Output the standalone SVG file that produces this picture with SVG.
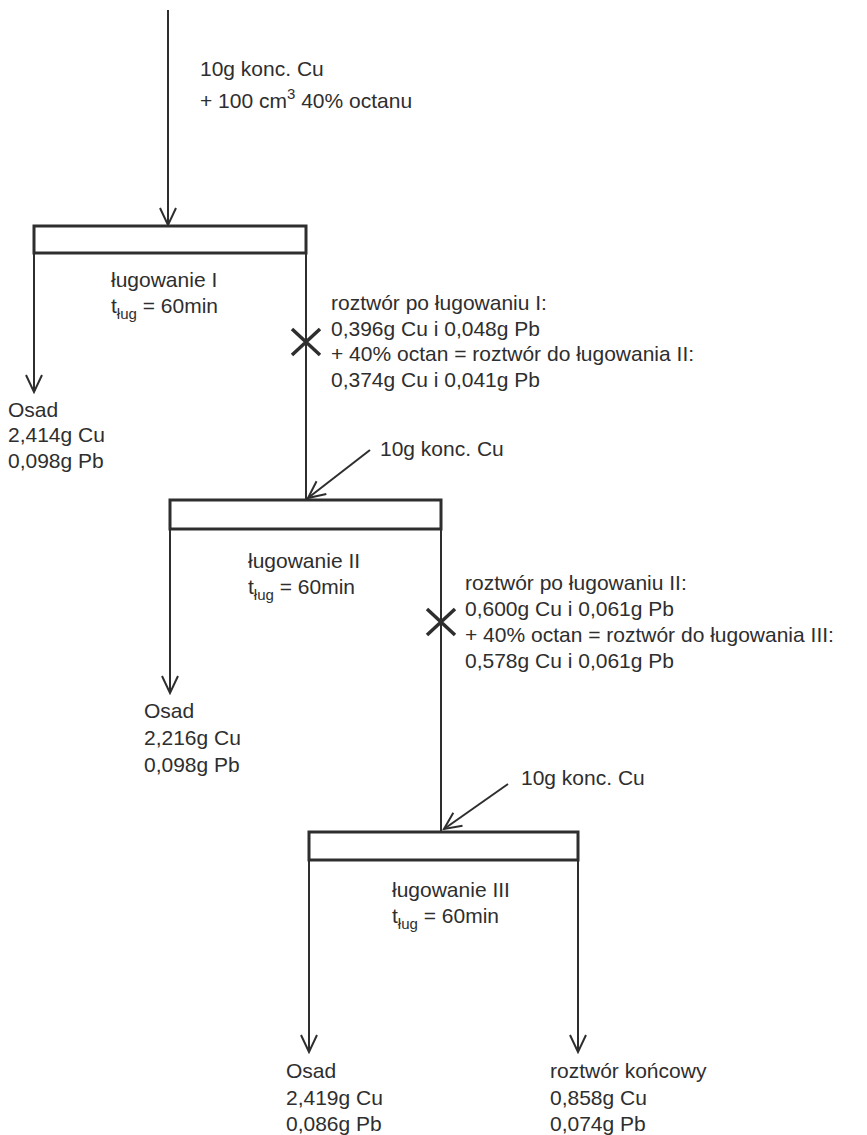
<svg xmlns="http://www.w3.org/2000/svg" width="867" height="1135" viewBox="0 0 867 1135">
<defs>
<style>
text{font-family:"Liberation Sans",Arial,sans-serif;font-size:21px;fill:#2e2e2e}
.sub{font-size:15px}
.ln{stroke:#2e2e2e;stroke-width:2;fill:none}
.box{stroke:#2e2e2e;stroke-width:3;fill:none}
.x{stroke:#2e2e2e;stroke-width:3.5;fill:none}
</style>
<marker id="ah" markerWidth="20" markerHeight="20" viewBox="0 0 20 20" refX="18" refY="10" orient="auto" markerUnits="userSpaceOnUse">
<path d="M1,2 L18,10 L1,18" fill="none" stroke="#2e2e2e" stroke-width="2"/>
</marker>
</defs>
<rect width="867" height="1135" fill="#ffffff"/>
<g id="connectors">
<line class="ln" x1="168" y1="10" x2="168" y2="225" marker-end="url(#ah)"/>
<line class="ln" x1="34" y1="253" x2="34" y2="392" marker-end="url(#ah)"/>
<line class="ln" x1="306" y1="253" x2="306" y2="500"/>
<line class="ln" x1="370" y1="450" x2="308" y2="498" marker-end="url(#ah)"/>
<line class="ln" x1="170" y1="529" x2="170" y2="693" marker-end="url(#ah)"/>
<line class="ln" x1="441" y1="529" x2="441" y2="831"/>
<line class="ln" x1="508" y1="784" x2="444" y2="829" marker-end="url(#ah)"/>
<line class="ln" x1="309" y1="860" x2="309" y2="1052" marker-end="url(#ah)"/>
<line class="ln" x1="578" y1="860" x2="578" y2="1052" marker-end="url(#ah)"/>
<path class="x" d="M292,329 L320,355 M320,329 L292,355"/>
<path class="x" d="M427,609 L455,635 M455,609 L427,635"/>
</g>
<g id="feed1">
<text x="200" y="76">10g konc. Cu</text>
<text x="200" y="108">+ 100 cm<tspan class="sub" dy="-9">3</tspan><tspan dy="9"> 40% octanu</tspan></text>
</g>
<g id="lugowanie1">
<rect class="box" x="34" y="226" width="272" height="27"/>
<text x="111" y="287">ługowanie I</text>
<text x="111" y="313">t<tspan class="sub" dy="6">ług</tspan><tspan dy="-6"> = 60min</tspan></text>
</g>
<g id="roztwor1">
<text x="331" y="310">roztwór po ługowaniu I:</text>
<text x="331" y="336">0,396g Cu i 0,048g Pb</text>
<text x="331" y="361">+ 40% octan = roztwór do ługowania II:</text>
<text x="331" y="387">0,374g Cu i 0,041g Pb</text>
</g>
<g id="osad1">
<text x="8" y="417">Osad</text>
<text x="8" y="442">2,414g Cu</text>
<text x="8" y="468">0,098g Pb</text>
</g>
<g id="feed2">
<text x="380" y="456">10g konc. Cu</text>
</g>
<g id="lugowanie2">
<rect class="box" x="170" y="500" width="271" height="29"/>
<text x="248" y="568">ługowanie II</text>
<text x="248" y="594">t<tspan class="sub" dy="6">ług</tspan><tspan dy="-6"> = 60min</tspan></text>
</g>
<g id="roztwor2">
<text x="465" y="590">roztwór po ługowaniu II:</text>
<text x="465" y="616">0,600g Cu i 0,061g Pb</text>
<text x="465" y="642">+ 40% octan = roztwór do ługowania III:</text>
<text x="465" y="668">0,578g Cu i 0,061g Pb</text>
</g>
<g id="osad2">
<text x="144" y="718">Osad</text>
<text x="144" y="745">2,216g Cu</text>
<text x="144" y="772">0,098g Pb</text>
</g>
<g id="feed3">
<text x="521" y="785">10g konc. Cu</text>
</g>
<g id="lugowanie3">
<rect class="box" x="309" y="832" width="269" height="28"/>
<text x="392" y="897">ługowanie III</text>
<text x="392" y="923">t<tspan class="sub" dy="6">ług</tspan><tspan dy="-6"> = 60min</tspan></text>
</g>
<g id="osad3">
<text x="286" y="1078">Osad</text>
<text x="286" y="1105">2,419g Cu</text>
<text x="286" y="1131">0,086g Pb</text>
</g>
<g id="roztwor-koncowy">
<text x="550" y="1078">roztwór końcowy</text>
<text x="550" y="1105">0,858g Cu</text>
<text x="550" y="1131">0,074g Pb</text>
</g>
</svg>
